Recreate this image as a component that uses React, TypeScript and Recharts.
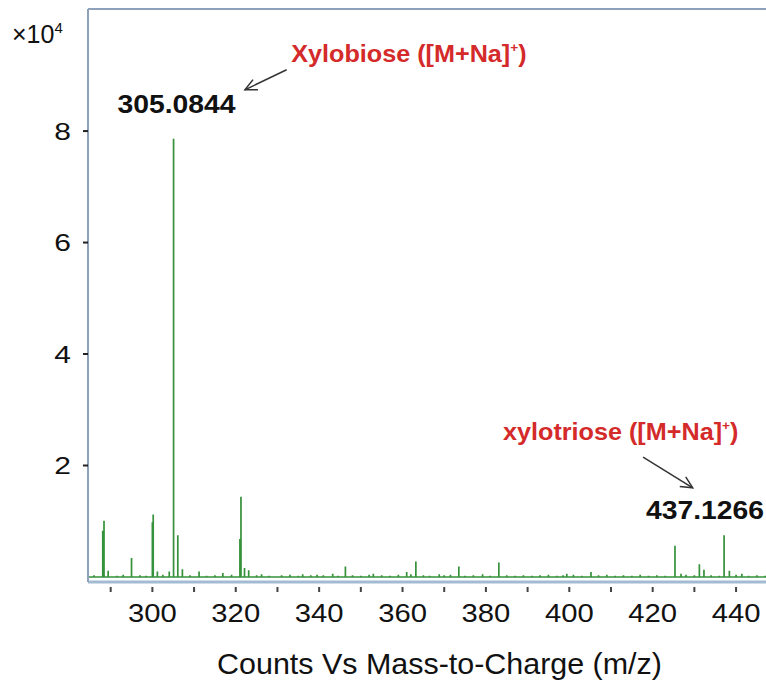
import React from 'react';
import { LineChart, Line, XAxis, YAxis, ReferenceLine, ReferenceDot } from 'recharts';

// m/z of the labelled and minor peaks, intensities in units of 10^4 counts
const PEAK_MZ = [
  288.1, 288.4, 289.4, 295.0, 300.0, 300.2, 301.2, 304.05, 305.0844, 306.1, 307.2, 311.2,
  316.9, 321.0, 321.25, 322.1, 323.1, 326.2, 336.05, 343.25, 346.3, 353.0, 361.0, 363.2,
  368.8, 373.5, 379.2, 383.1, 399.4, 405.2, 409.0, 425.35, 426.8, 431.2, 432.3, 437.1266,
  438.4, 441.4,
];
const PEAK_INT = [
  0.83, 1.01, 0.11, 0.34, 0.98, 1.12, 0.1, 0.1, 7.86, 0.75, 0.14, 0.1,
  0.07, 0.68, 1.44, 0.16, 0.12, 0.05, 0.05, 0.06, 0.19, 0.06, 0.09, 0.28,
  0.05, 0.19, 0.05, 0.26, 0.06, 0.09, 0.04, 0.56, 0.06, 0.23, 0.13, 0.75,
  0.11, 0.06,
];

// baseline noise sticks
const NOISE_MZ = [
  286.0, 291.5, 293.0, 297.0, 298.5, 302.5, 309.0, 313.0, 315.0, 319.0, 325.0, 328.0,
  331.0, 333.0, 335.0, 338.0, 339.5, 341.0, 344.5, 348.0, 350.0, 352.0, 355.0, 357.0,
  359.0, 362.0, 365.0, 366.5, 370.0, 371.5, 375.0, 377.0, 381.0, 385.0, 387.0, 389.0,
  391.0, 393.0, 395.0, 397.0, 398.5, 401.0, 403.0, 407.0, 411.0, 413.0, 415.0, 417.0,
  419.0, 421.0, 423.0, 428.0, 430.0, 434.0, 436.0, 440.0, 443.0, 445.0, 447.0,
];
const NOISE_INT = [
  0.03, 0.02, 0.04, 0.03, 0.02, 0.04, 0.03, 0.02, 0.03, 0.04, 0.03, 0.02,
  0.03, 0.04, 0.02, 0.03, 0.04, 0.03, 0.02, 0.03, 0.02, 0.04, 0.03, 0.02,
  0.04, 0.05, 0.03, 0.02, 0.03, 0.04, 0.02, 0.03, 0.02, 0.03, 0.02, 0.03,
  0.02, 0.03, 0.04, 0.02, 0.03, 0.04, 0.02, 0.03, 0.02, 0.03, 0.02, 0.04,
  0.02, 0.03, 0.02, 0.04, 0.03, 0.03, 0.02, 0.04, 0.02, 0.03, 0.02,
];

const X_TICKS = [290, 300, 310, 320, 330, 340, 350, 360, 370, 380, 390, 400, 410, 420, 430, 440];
const Y_TICKS = [2, 4, 6, 8];
const X_MIN = 284.56;
const X_MAX = 449.34;
const Y_MIN = -0.09;
const Y_MAX = 10.19;

const FONT = '"Liberation Sans", Arial, sans-serif';
const GREEN = '#35913a';
const RED = '#d42a2a';
const FRAME = '#8fa1ba';

const sticks = [
  ...PEAK_MZ.map((mz, i) => ({ mz, v: PEAK_INT[i] })),
  ...NOISE_MZ.map((mz, i) => ({ mz, v: NOISE_INT[i] })),
].sort((a, b) => a.mz - b.mz);

// stick spectrum as one continuous trace: up and back down at each m/z
const trace: { mz: number; v: number }[] = [{ mz: X_MIN, v: 0 }];
sticks.forEach((s) => {
  trace.push({ mz: s.mz, v: 0 }, { mz: s.mz, v: s.v }, { mz: s.mz, v: 0 });
});
trace.push({ mz: X_MAX, v: 0 });

const XTick = (props: any) => {
  const { x, y, payload } = props;
  const val = payload.value;
  const labelled = val % 20 === 0 && val >= 300;
  return (
    <g transform={`translate(${x},${y})`}>
      <line x1={0} x2={0} y1={5} y2={10} stroke="#444" strokeWidth={2} />
      {labelled && (
        <text
          transform="scale(1.17,1)"
          x={0}
          y={40}
          textAnchor="middle"
          fontSize={25}
          fontFamily={FONT}
          fill="#111"
        >
          {val}
        </text>
      )}
    </g>
  );
};

const YTick = (props: any) => {
  const { x, y, payload } = props;
  return (
    <g transform={`translate(${x},${y})`}>
      <text transform="scale(1.25,1)" x={0} y={8.6} textAnchor="end" fontSize={24} fontFamily={FONT} fill="#111">
        {payload.value}
      </text>
    </g>
  );
};

const ExpLabel = (props: any) => {
  const { viewBox } = props;
  return (
    <text x={viewBox.x + 12} y={viewBox.y + 34} fontSize={25} fontFamily={FONT} fill="#111">
      ×10
      <tspan dy={-10} fontSize={15}>
        4
      </tspan>
    </text>
  );
};

const XTitle = (props: any) => {
  const { viewBox } = props;
  return (
    <text
      transform={`translate(${viewBox.x + viewBox.width / 2 + 8},${viewBox.y + 92}) scale(1.05,1)`}
      textAnchor="middle"
      fontSize={29}
      fontFamily={FONT}
      fill="#111"
    >
      Counts Vs Mass-to-Charge (m/z)
    </text>
  );
};

const massLabel = (text: string) => (props: any) => {
  const { viewBox } = props;
  return (
    <text
      transform={`translate(${viewBox.x},${viewBox.y}) scale(1.09,1)`}
      textAnchor="middle"
      fontSize={26}
      fontWeight="bold"
      fontFamily={FONT}
      fill="#111"
    >
      {text}
    </text>
  );
};

const ionLabel = (name: string) => (props: any) => {
  const { viewBox } = props;
  return (
    <text
      transform={`translate(${viewBox.x},${viewBox.y}) scale(1.05,1)`}
      fontSize={24}
      fontWeight="bold"
      fontFamily={FONT}
      fill={RED}
    >
      {name} ([M+Na]
      <tspan dy={-10} fontSize={13}>
        +
      </tspan>
      <tspan dy={10}>)</tspan>
    </text>
  );
};

const Arrow = (props: any) => {
  const { x1, y1, x2, y2 } = props;
  const ang = Math.atan2(y2 - y1, x2 - x1);
  const len = 13;
  const spread = 0.45;
  const ax = x2 - len * Math.cos(ang - spread);
  const ay = y2 - len * Math.sin(ang - spread);
  const bx = x2 - len * Math.cos(ang + spread);
  const by = y2 - len * Math.sin(ang + spread);
  return (
    <g stroke="#333" strokeWidth={1.5} fill="none">
      <line x1={x1} y1={y1} x2={x2} y2={y2} />
      <polyline points={`${ax},${ay} ${x2},${y2} ${bx},${by}`} />
    </g>
  );
};

export default function App() {
  return (
    <div style={{ position: 'absolute', left: 0, top: 0, width: 766, height: 683, overflow: 'hidden', background: '#fff' }}>
      <LineChart width={775} height={683} data={trace} margin={{ top: 9, right: 0, left: 0, bottom: 0 }}>
        <XAxis
          type="number"
          dataKey="mz"
          domain={[X_MIN, X_MAX]}
          allowDataOverflow
          ticks={X_TICKS}
          interval={0}
          height={101}
          tickSize={0}
          tickMargin={0}
          tickLine={false}
          axisLine={{ stroke: '#a3bad3', strokeWidth: 3 }}
          tick={<XTick />}
          label={{ content: <XTitle /> }}
        />
        <YAxis
          type="number"
          domain={[Y_MIN, Y_MAX]}
          allowDataOverflow
          ticks={Y_TICKS}
          interval={0}
          width={88}
          tickSize={5}
          tickMargin={12}
          tickLine={{ stroke: '#222', strokeWidth: 2 }}
          axisLine={{ stroke: FRAME, strokeWidth: 2 }}
          tick={<YTick />}
          label={{ content: <ExpLabel /> }}
        />
        <ReferenceLine y={Y_MAX} stroke={FRAME} strokeWidth={2} />
        <Line
          type="linear"
          dataKey="v"
          stroke={GREEN}
          strokeWidth={1.7}
          strokeLinejoin="bevel"
          dot={false}
          activeDot={false}
          isAnimationActive={false}
        />
        <ReferenceLine segment={[{ x: 332.2, y: 9.1 }, { x: 322.2, y: 8.74 }]} shape={<Arrow />} />
        <ReferenceLine segment={[{ x: 417.7, y: 2.15 }, { x: 429.6, y: 1.6 }]} shape={<Arrow />} />
        <ReferenceDot x={305.78} y={8.32} r={0} label={{ content: massLabel('305.0844') }} />
        <ReferenceDot x={432.55} y={1.04} r={0} ifOverflow="visible" label={{ content: massLabel('437.1266') }} />
        <ReferenceDot x={333.3} y={9.245} r={0} label={{ content: ionLabel('Xylobiose') }} />
        <ReferenceDot x={384.1} y={2.46} r={0} label={{ content: ionLabel('xylotriose') }} />
      </LineChart>
    </div>
  );
}
